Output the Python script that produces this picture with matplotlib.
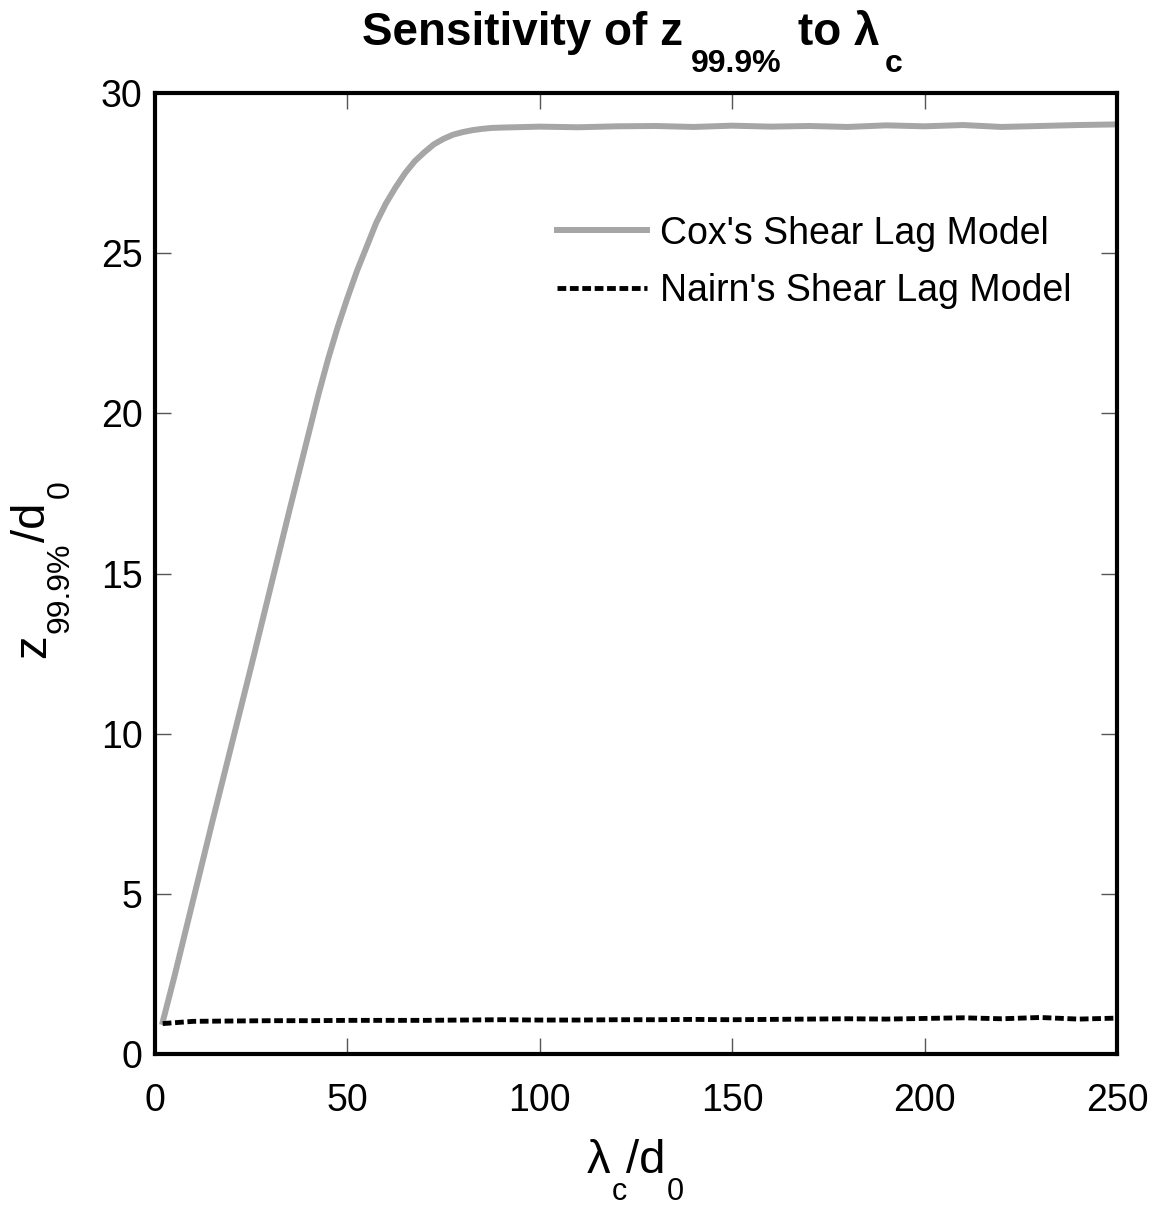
import numpy as np
import matplotlib
matplotlib.use("Agg")
import matplotlib.pyplot as plt

plt.rcParams['font.family'] = ['Liberation Sans', 'DejaVu Sans']

W, H = 1159, 1209

# lambda_c / d0
cox_x = [2, 5, 10, 15, 20, 25, 30, 35, 40, 42.5, 45, 47.5, 50, 52.5, 55, 57.5, 60, 62.5,
         65, 67.5, 70, 72.5, 75, 77.5, 80, 82.5, 85, 87.5, 90,
         100, 110, 120, 130, 140, 150, 160, 170, 180, 190, 200, 210, 220, 230, 240, 250]
cox_y = [1.0, 2.4, 4.85, 7.3, 9.7, 12.1, 14.55, 17.0, 19.4, 20.6, 21.7, 22.7, 23.6,
         24.45, 25.2, 25.95, 26.55, 27.05, 27.5, 27.87, 28.15, 28.4, 28.57, 28.7, 28.78,
         28.84, 28.88, 28.91, 28.92,
         28.95, 28.93, 28.96, 28.97, 28.94, 28.98, 28.95, 28.97, 28.94, 28.99, 28.96,
         29.0, 28.94, 28.97, 29.0, 29.02]

nairn_x = [2, 10, 20, 30, 40, 50, 60, 70, 80, 90, 100, 110, 120, 130, 140, 150, 160,
           170, 180, 190, 200, 210, 220, 230, 240, 250]
nairn_y = [0.95, 1.02, 1.03, 1.04, 1.04, 1.05, 1.05, 1.05, 1.06, 1.07, 1.06, 1.06, 1.07,
           1.07, 1.08, 1.07, 1.08, 1.09, 1.10, 1.09, 1.11, 1.13, 1.10, 1.14, 1.09, 1.12]

fig = plt.figure(figsize=(W / 100, H / 100), dpi=100)
ax = fig.add_axes([155 / W, 1 - 1054 / H, 962 / W, 961 / H])

ax.plot(cox_x, cox_y, color='#a6a6a6', lw=4.3, label="Cox's Shear Lag Model")
ax.plot(nairn_x, nairn_y, color='black', lw=3.5, dashes=(1.8, 0.75),
        label="Nairn's Shear Lag Model")

ax.set_xlim(0, 250)
ax.set_ylim(0, 30)
ax.set_xticks([0, 50, 100, 150, 200, 250])
ax.set_yticks([0, 5, 10, 15, 20, 25, 30])

for s in ax.spines.values():
    s.set_linewidth(3)
ax.tick_params(direction='in', length=11.5, width=1, color='#555555',
               top=True, right=True, labelsize=27)
ax.tick_params(axis='x', pad=21)
ax.tick_params(axis='y', pad=9)

ax.legend(loc='upper left', bbox_to_anchor=(0.418, 0.8725), frameon=False,
          fontsize=27, handlelength=2.4, handletextpad=0.35, labelspacing=0.58,
          borderpad=0, borderaxespad=0)

renderer = fig.canvas.get_renderer()


def compose(pieces, x, y, rotation=0):
    # pieces: text, size, weight, baseline drop (px), gap before (px)
    pos = 0
    for s, size, weight, drop, gap in pieces:
        pos += gap
        if rotation == 0:
            tx, ty = x + pos, y - drop
        else:
            tx, ty = x + drop, y + pos
        t = fig.text(tx / W, ty / H, s, fontsize=size, fontweight=weight,
                     ha='left', va='baseline', rotation=rotation,
                     rotation_mode='anchor')
        bb = t.get_window_extent(renderer)
        pos += bb.width if rotation == 0 else bb.height


compose([("Sensitivity of z", 33, 'bold', 0, 0),
         ("99.9%", 23, 'bold', 27, 8),
         ("to λ", 33, 'bold', 0, 16),
         ("c", 23, 'bold', 27, 6)], 362, H - 45)

compose([("λ", 34, 'normal', 0, 0),
         ("c", 22, 'normal', 27, 1),
         ("/d", 34, 'normal', 0, -1),
         ("0", 22, 'normal', 27, 2)], 587, H - 1173)

compose([("z", 34, 'normal', 0, 0),
         ("99.9%", 23, 'normal', 24, 1),
         ("/d", 34, 'normal', 0, 1),
         ("0", 23, 'normal', 24, 4)], 45, H - 658, rotation=90)

plt.savefig('out.png')
